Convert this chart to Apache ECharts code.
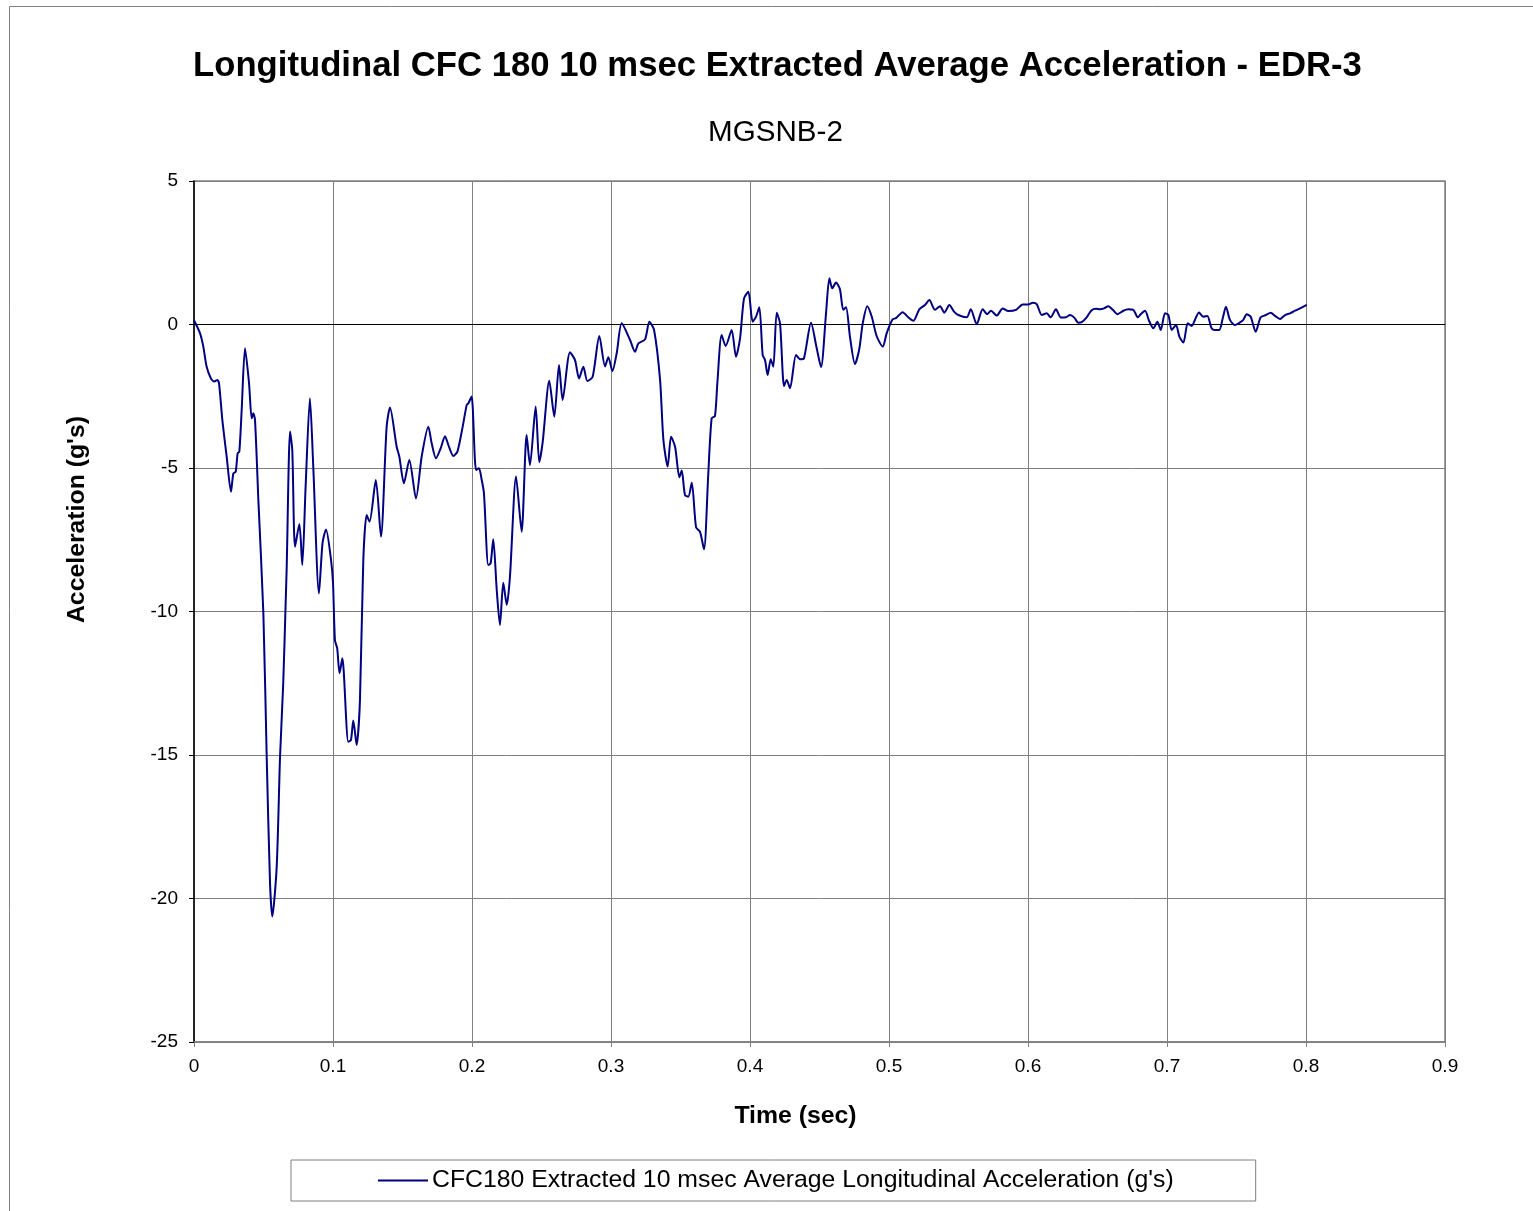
<!DOCTYPE html>
<html>
<head>
<meta charset="utf-8">
<script src="https://cdn.jsdelivr.net/npm/echarts@6/dist/echarts.min.js"></script>
<style>
html,body{margin:0;padding:0;background:#fff;}
#chart{width:1533px;height:1211px;}
</style>
</head>
<body>
<div id="chart"></div>
<script>
const titleText = "Longitudinal CFC 180 10 msec Extracted Average Acceleration - EDR-3";
const subtitleText = "MGSNB-2";
const seriesName = "CFC180 Extracted 10 msec Average Longitudinal Acceleration (g's)";
const xAxisName = "Time (sec)";
const yAxisName = "Acceleration (g's)";

const timeSec = [
0.0000,0.0043,0.0067,0.0091,0.0122,0.0146,0.0168,0.0180,0.0204,0.0235,0.0266,0.0283,0.0300,0.0314,0.0326,0.0343,0.0367,0.0396,0.0415,0.0427,0.0439,0.0463,0.0499,0.0523,0.0547,0.0563,0.0595,0.0619,0.0642,0.0660,0.0667,0.0691,0.0707,0.0727,0.0758,0.0779,0.0803,0.0834,0.0858,0.0899,0.0925,0.0950,0.0986,0.1000,0.1014,0.1030,0.1047,0.1067,0.1110,0.1129,0.1146,0.1170,0.1194,0.1218,0.1242,0.1263,0.1308,0.1345,0.1386,0.1410,0.1458,0.1477,0.1510,0.1549,0.1597,0.1638,0.1686,0.1710,0.1741,0.1775,0.1806,0.1830,0.1866,0.1895,0.1933,0.1962,0.1973,0.1997,0.2029,0.2050,0.2070,0.2086,0.2117,0.2134,0.2153,0.2178,0.2201,0.2225,0.2250,0.2273,0.2317,0.2357,0.2393,0.2417,0.2458,0.2484,0.2508,0.2556,0.2592,0.2626,0.2652,0.2705,0.2741,0.2770,0.2801,0.2830,0.2868,0.2916,0.2957,0.2981,0.3010,0.3041,0.3077,0.3137,0.3173,0.3197,0.3245,0.3276,0.3310,0.3353,0.3377,0.3408,0.3432,0.3461,0.3492,0.3509,0.3532,0.3556,0.3581,0.3612,0.3640,0.3669,0.3700,0.3724,0.3748,0.3765,0.3796,0.3825,0.3868,0.3899,0.3928,0.3957,0.3988,0.4019,0.4043,0.4067,0.4091,0.4108,0.4127,0.4149,0.4168,0.4192,0.4216,0.4245,0.4264,0.4288,0.4331,0.4360,0.4388,0.4439,0.4480,0.4511,0.4547,0.4571,0.4592,0.4619,0.4647,0.4671,0.4691,0.4719,0.4755,0.4786,0.4811,0.4844,0.4876,0.4911,0.4955,0.4983,0.5026,0.5050,0.5098,0.5139,0.5175,0.5218,0.5259,0.5290,0.5331,0.5367,0.5398,0.5434,0.5468,0.5499,0.5559,0.5588,0.5631,0.5674,0.5707,0.5734,0.5775,0.5818,0.5858,0.5914,0.5962,0.6002,0.6034,0.6063,0.6099,0.6135,0.6163,0.6201,0.6237,0.6273,0.6302,0.6333,0.6362,0.6386,0.6422,0.6458,0.6489,0.6518,0.6547,0.6578,0.6610,0.6643,0.6686,0.6722,0.6758,0.6790,0.6811,0.6842,0.6871,0.6902,0.6931,0.6955,0.6986,0.7010,0.7034,0.7065,0.7089,0.7118,0.7149,0.7178,0.7201,0.7230,0.7261,0.7290,0.7321,0.7345,0.7376,0.7401,0.7424,0.7453,0.7489,0.7520,0.7549,0.7573,0.7602,0.7638,0.7674,0.7712,0.7746,0.7777,0.7813,0.7849,0.7885,0.7921,0.7957,0.8005
];
const accelG = [
0.15,-0.30,-0.77,-1.47,-1.88,-1.99,-1.93,-2.05,-3.33,-4.60,-5.83,-5.19,-5.13,-4.49,-4.43,-2.98,-0.83,-2.05,-3.27,-3.09,-3.33,-6.11,-10.06,-15.06,-19.47,-20.63,-18.89,-15.06,-12.50,-9.60,-8.44,-3.73,-4.37,-7.74,-6.95,-8.38,-5.65,-2.57,-4.95,-9.37,-7.60,-7.14,-8.21,-9.00,-11.00,-11.28,-12.15,-11.63,-14.54,-14.48,-13.80,-14.65,-13.08,-8.21,-6.64,-6.87,-5.42,-7.39,-3.56,-2.89,-4.26,-4.60,-5.53,-4.72,-6.06,-4.60,-3.56,-4.14,-4.66,-4.31,-3.89,-4.20,-4.58,-4.43,-3.56,-2.80,-2.75,-2.51,-5.07,-5.01,-5.42,-5.88,-8.38,-8.32,-7.48,-9.25,-10.47,-9.00,-9.77,-8.79,-5.30,-7.22,-3.85,-4.90,-2.86,-4.80,-4.12,-1.96,-3.21,-1.41,-2.63,-0.97,-1.24,-1.88,-1.47,-1.97,-1.82,-0.40,-1.46,-1.14,-1.62,-1.00,0.04,-0.54,-0.95,-0.66,-0.52,0.10,-0.19,-1.93,-4.02,-4.95,-3.91,-4.26,-5.32,-5.09,-5.94,-6.00,-5.51,-7.07,-7.22,-7.83,-5.19,-3.27,-3.19,-2.05,-0.37,-0.75,-0.19,-1.12,-0.50,0.91,1.14,0.10,0.27,0.60,-1.06,-1.24,-1.76,-1.21,-1.47,0.41,0.04,-2.14,-1.93,-2.22,-1.06,-1.21,-1.18,0.06,-0.83,-1.49,0.39,1.61,1.26,1.46,1.23,0.51,0.60,-0.42,-1.38,-0.86,0.04,0.64,0.27,-0.40,-0.77,-0.31,0.18,0.22,0.43,0.25,0.13,0.53,0.68,0.85,0.51,0.64,0.41,0.68,0.45,0.33,0.25,0.53,0.01,0.53,0.36,0.48,0.31,0.56,0.47,0.51,0.70,0.70,0.76,0.71,0.33,0.39,0.25,0.53,0.24,0.25,0.33,0.24,0.06,0.08,0.25,0.50,0.55,0.53,0.56,0.64,0.51,0.36,0.48,0.53,0.51,0.25,0.36,0.48,0.13,-0.13,0.10,-0.19,0.39,0.33,-0.19,-0.02,-0.42,-0.63,0.04,-0.05,0.16,0.42,0.27,0.30,-0.13,-0.19,-0.19,0.22,0.62,0.16,-0.02,0.06,0.16,0.36,0.27,-0.25,0.25,0.33,0.41,0.30,0.19,0.33,0.39,0.48,0.56,0.68
];

const FONT = "'Liberation Sans', Arial, sans-serif";
const chart = echarts.init(document.getElementById('chart'), null, {renderer: 'canvas'});
const points = timeSec.map((t, i) => [t, accelG[i]]);

chart.setOption({
  animation: false,
  backgroundColor: '#ffffff',
  graphic: [{
    type: 'rect', silent: true,
    shape: {x: 9.5, y: 6.5, width: 1540, height: 1220},
    style: {fill: 'none', stroke: '#808080', lineWidth: 1}
  }],
  title: [
    {text: titleText, left: 188, top: 44, textStyle: {fontFamily: FONT, fontSize: 34.7, fontWeight: 'bold', color: '#000'}},
    {text: subtitleText, left: 703, top: 113, textStyle: {fontFamily: FONT, fontSize: 29.6, fontWeight: 'normal', color: '#000'}}
  ],
  grid: {left: 194, top: 181, right: 88, bottom: 169, show: true, borderColor: '#808080', borderWidth: 1.5, backgroundColor: 'transparent'},
  legend: {
    show: true, bottom: 10, left: 291,
    data: [seriesName],
    itemWidth: 50, itemHeight: 2, itemGap: 4,
    icon: 'rect',
    padding: [8, 82, 8, 87],
    borderColor: '#808080', borderWidth: 1,
    textStyle: {fontFamily: FONT, fontSize: 24.8, color: '#000', padding: [0,0,0,-1]}
  },
  xAxis: {
    type: 'value', min: 0, max: 0.9, interval: 0.1,
    name: xAxisName, nameLocation: 'middle', nameGap: 62,
    nameTextStyle: {fontFamily: FONT, fontSize: 24.8, fontWeight: 'bold', color: '#000', padding: [0,48,0,0]},
    axisLine: {show: true, onZero: false, lineStyle: {color: '#808080', width: 1.5}},
    axisTick: {show: true, inside: false, length: 5, lineStyle: {color: '#808080'}},
    axisLabel: {fontFamily: FONT, fontSize: 19, color: '#000', margin: 15, formatter: v => String(+v.toFixed(1))},
    splitLine: {show: true, lineStyle: {color: '#808080', width: 1}}
  },
  yAxis: {
    type: 'value', min: -25, max: 5, interval: 5,
    name: yAxisName, nameLocation: 'middle', nameGap: 104, nameRotate: 90,
    nameTextStyle: {fontFamily: FONT, fontSize: 24.8, fontWeight: 'bold', color: '#000', padding: [0,0,0,184]},
    axisLine: {show: true, onZero: false, lineStyle: {color: '#000', width: 1.5}},
    axisTick: {show: true, inside: false, length: 5, lineStyle: {color: '#000'}},
    axisLabel: {fontFamily: FONT, fontSize: 19, color: '#000', margin: 16},
    splitLine: {show: true, lineStyle: {color: '#808080', width: 1}}
  },
  series: [{
    name: seriesName,
    type: 'line',
    data: points,
    showSymbol: false,
    symbol: 'none',
    smooth: 0.25,
    lineStyle: {color: '#000080', width: 2},
    itemStyle: {color: '#000080'},
    z: 3,
    markLine: {
      silent: true, symbol: 'none', label: {show: false},
      lineStyle: {color: '#000', type: 'solid', width: 1.2},
      data: [{yAxis: 0}],
      z: 2
    }
  }]
});
</script>
</body>
</html>
